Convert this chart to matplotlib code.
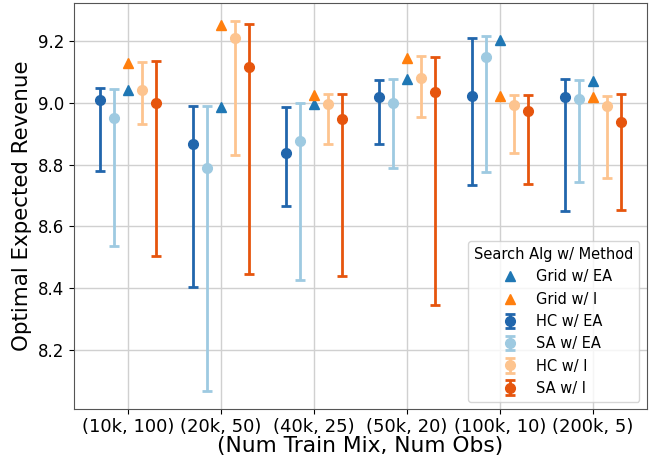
import matplotlib
matplotlib.use("Agg")
import matplotlib.pyplot as plt
import numpy as np

categories = ["(10k, 100)", "(20k, 50)", "(40k, 25)", "(50k, 20)", "(100k, 10)", "(200k, 5)"]

grid_ea = [9.043, 8.987, 8.997, 9.077, 9.203, 9.070]
grid_i = [9.130, 9.252, 9.025, 9.146, 9.022, 9.018]

hc_ea_mean = [9.008, 8.868, 8.838, 9.020, 9.022, 9.018]
hc_ea_low = [8.778, 8.404, 8.666, 8.868, 8.735, 8.649]
hc_ea_high = [9.049, 8.989, 8.987, 9.074, 9.209, 9.077]

sa_ea_mean = [8.951, 8.789, 8.877, 9.001, 9.148, 9.013]
sa_ea_low = [8.537, 8.067, 8.427, 8.789, 8.777, 8.744]
sa_ea_high = [9.046, 8.989, 9.001, 9.077, 9.218, 9.075]

hc_i_mean = [9.041, 9.211, 8.996, 9.081, 8.994, 8.989]
hc_i_low = [8.933, 8.830, 8.867, 8.953, 8.837, 8.755]
hc_i_high = [9.132, 9.265, 9.028, 9.151, 9.026, 9.024]

sa_i_mean = [9.000, 9.117, 8.949, 9.034, 8.973, 8.939]
sa_i_low = [8.502, 8.446, 8.439, 8.344, 8.737, 8.652]
sa_i_high = [9.137, 9.256, 9.028, 9.148, 9.026, 9.030]

x = np.arange(len(categories))

fig, ax = plt.subplots(figsize=(6.5, 4.59), dpi=100)

ax.plot(x, grid_ea, "^", color="#1f77b4", markersize=6.5, label="Grid w/ EA")
ax.plot(x, grid_i, "^", color="#ff7f0e", markersize=6.5, label="Grid w/ I")

series = [
    ("HC w/ EA", hc_ea_mean, hc_ea_low, hc_ea_high, "#2166ac", -0.3),
    ("SA w/ EA", sa_ea_mean, sa_ea_low, sa_ea_high, "#9ecae1", -0.15),
    ("HC w/ I", hc_i_mean, hc_i_low, hc_i_high, "#fdc48f", 0.15),
    ("SA w/ I", sa_i_mean, sa_i_low, sa_i_high, "#e6550d", 0.3),
]
for name, mean, low, high, color, off in series:
    mean = np.array(mean)
    yerr = [mean - np.array(low), np.array(high) - mean]
    ax.errorbar(x + off, mean, yerr=yerr, fmt="o", color=color, ecolor=color,
                elinewidth=2, capsize=3.5, capthick=2, markersize=7, label=name)

ax.set_xticks(x)
ax.set_xticklabels(categories, fontsize=13)
ax.tick_params(axis="y", labelsize=12)
ax.tick_params(axis="x", pad=3)
ax.set_xlabel("(Num Train Mix, Num Obs)", fontsize=15.7, labelpad=0)
ax.set_ylabel("Optimal Expected Revenue", fontsize=15.4)
ax.grid(True, color="#d0d0d0", linewidth=1)
ax.set_axisbelow(True)
for s in ax.spines.values():
    s.set_color("#555555")

ax.legend(title="Search Alg w/ Method", loc="lower right", fontsize=10.5,
          title_fontsize=10.5)

fig.subplots_adjust(left=0.114, right=0.995, top=0.994, bottom=0.109)
fig.savefig("out.png", dpi=100)
